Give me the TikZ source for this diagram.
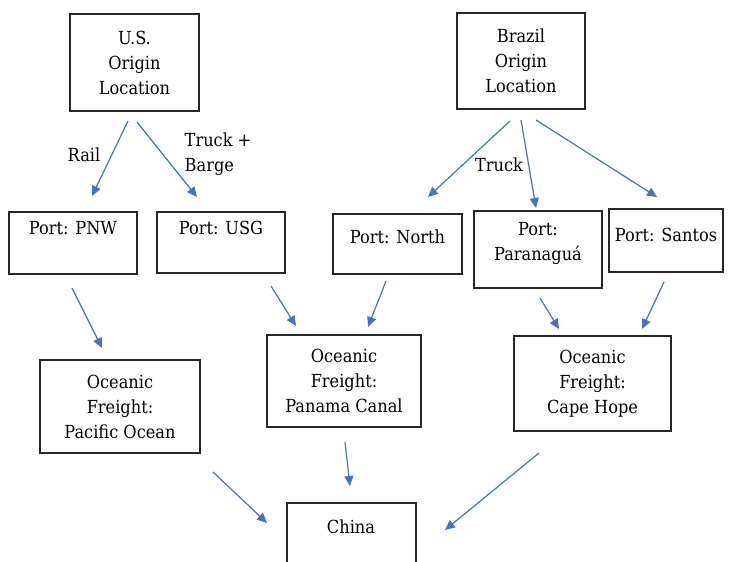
\documentclass[tikz,border=0pt]{standalone}
\usepackage{fontspec}
\newfontfamily\diagfont{DejaVu Serif Condensed}
\usetikzlibrary{arrows.meta}
\definecolor{arrowblue}{HTML}{4472C4}
\definecolor{boxline}{HTML}{262626}
\begin{document}
\begin{tikzpicture}[x=1pt,y=-1pt,
  every node/.style={font=\diagfont\fontsize{18}{25}\selectfont, inner sep=0pt},
  box/.style={draw=boxline, line width=1.4pt, align=center},
  txt/.style={align=center},
  conn/.style={draw=arrowblue, line width=1.2pt, -{Triangle[length=10pt,width=9pt]}},
  elabel/.style={align=left}]
\useasboundingbox[fill=white] (0,0) rectangle (729,562);
% boxes
\node[box, minimum width=129pt, minimum height=97pt] (us) at (134.5,62.5) {U.S.\\Origin\\Location};
\node[box, minimum width=128pt, minimum height=96pt] (br) at (521,61) {Brazil\\Origin\\Location};
\node[box, minimum width=128pt, minimum height=62pt] (pnw) at (73,243) {};
\node[txt] (pnwt) at (73,228) {Port: PNW};
\node[box, minimum width=128pt, minimum height=61pt] (usg) at (221,242.5) {};
\node[txt] (usgt) at (221,228) {Port: USG};
\node[box, minimum width=129pt, minimum height=60pt] (north) at (397.5,244) {};
\node[txt] (northt) at (397.5,237) {Port: North};
\node[box, minimum width=128pt, minimum height=77pt] (para) at (538,249.5) {};
\node[txt] (parat) at (538,243) {Port:\\Paranaguá};
\node[box, minimum width=114pt, minimum height=63pt] (santos) at (666,240.5) {};
\node[txt] (santost) at (666,234.5) {Port: Santos};
\node[box, minimum width=160pt, minimum height=93pt] (pac) at (120,406.5) {Oceanic\\Freight:\\Pacific Ocean};
\node[box, minimum width=154pt, minimum height=92pt] (pan) at (344,381) {Oceanic\\Freight:\\Panama Canal};
\node[box, minimum width=157pt, minimum height=95pt] (cape) at (592.5,383.5) {Oceanic\\Freight:\\Cape Hope};
\node[box, minimum width=129pt, minimum height=100pt] (china) at (351.5,553) {};
\node[txt] (chinat) at (351,527) {China};
% edge labels
\node[elabel] (rail) at (84,155) {Rail};
\node[elabel] (truckbarge) at (218,154) {Truck +\\Barge};
\node[elabel] (truck) at (499,165) {Truck};
% connector end points
\coordinate (us1) at (128,121);   \coordinate (pnwin) at (92,196);
\coordinate (us2) at (137,122);   \coordinate (usgin) at (197,197);
\coordinate (br1) at (510,121);   \coordinate (northin) at (428,197);
\coordinate (br2) at (521,120);   \coordinate (parain) at (536,208);
\coordinate (br3) at (536,120);   \coordinate (santosin) at (657,197);
\coordinate (pnwout) at (72,288); \coordinate (pacin) at (102,348);
\coordinate (usgout) at (271,286);\coordinate (panin1) at (296,326);
\coordinate (northout) at (386,281); \coordinate (panin2) at (368,327);
\coordinate (paraout) at (540,298);  \coordinate (capein1) at (559,329);
\coordinate (santosout) at (664,282);\coordinate (capein2) at (642,329);
\coordinate (panout) at (345,442);   \coordinate (chinain1) at (350,486);
\coordinate (pacout) at (213,472);   \coordinate (chinain2) at (267,523);
\coordinate (capeout) at (539,453);  \coordinate (chinain3) at (445,530);
% connectors
\draw[conn] (us1) -- (pnwin);
\draw[conn] (us2) -- (usgin);
\draw[conn] (br1) -- (northin);
\draw[conn] (br2) -- (parain);
\draw[conn] (br3) -- (santosin);
\draw[conn] (pnwout) -- (pacin);
\draw[conn] (usgout) -- (panin1);
\draw[conn] (northout) -- (panin2);
\draw[conn] (paraout) -- (capein1);
\draw[conn] (santosout) -- (capein2);
\draw[conn] (panout) -- (chinain1);
\draw[conn] (pacout) -- (chinain2);
\draw[conn] (capeout) -- (chinain3);
\end{tikzpicture}
\end{document}
